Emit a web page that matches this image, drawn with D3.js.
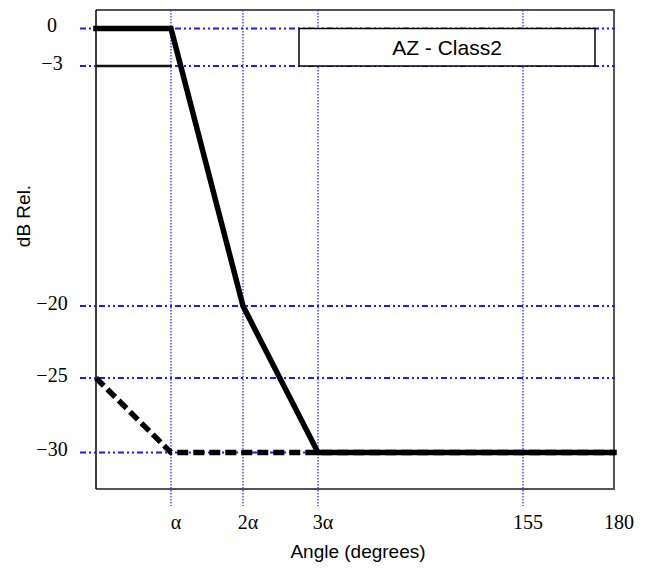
<!DOCTYPE html>
<html>
<head>
<meta charset="utf-8">
<script src="https://cdn.jsdelivr.net/npm/d3@7"></script>
<style>
  html, body { margin: 0; padding: 0; background: #fff; }
  svg { display: block; }
</style>
</head>
<body>
<svg id="chart" width="654" height="574"></svg>
<script>
// Nominal beamwidth α used to place the α, 2α, 3α abscissae (schematic axis).
const ALPHA = 30;

// Axis ticks
const xTickValues = [ALPHA, 2 * ALPHA, 3 * ALPHA, 155, 180];
const xTickLabels = ["α", "2α", "3α", "155", "180"];
const xGridValues = [ALPHA, 2 * ALPHA, 3 * ALPHA, 155];
const yTickValues = [0, -3, -20, -25, -30];
const yTickLabels = ["0", "\u22123", "\u221220", "\u221225", "\u221230"];

// Radiation-pattern mask (angle, dB relative)
const upperMaskX = [0, ALPHA, 2 * ALPHA, 3 * ALPHA, 180];
const upperMaskY = [0, 0, -20, -30, -30];
const halfPowerX = [0, ALPHA];
const halfPowerY = [-3, -3];
const lowerMaskX = [0, ALPHA, 180];
const lowerMaskY = [-25, -30, -30];

const legendText = "AZ - Class2";
const xTitle = "Angle (degrees)";
const yTitle = "dB Rel.";

const svg = d3.select("#chart");
const plot = { left: 96, right: 614, top: 10, bottom: 489 };

// Schematic (not-to-scale) axes: piecewise linear scales
const x = d3.scaleLinear()
  .domain([0, ALPHA, 2 * ALPHA, 3 * ALPHA, 155, 180])
  .range([plot.left, 171, 243, 318, 523, plot.right]);
const y = d3.scaleLinear()
  .domain([0, -3, -20, -25, -30])
  .range([28.5, 66, 306, 378, 452.5]);

const zip = (xs, ys) => xs.map((v, i) => [v, ys[i]]);
const line = d3.line().x(d => x(d[0])).y(d => y(d[1]));

const serif = "'Liberation Serif', 'Times New Roman', serif";
const sans = "'Liberation Sans', Arial, sans-serif";
const gridBlue = "#1a1aff";

// Frame
svg.append("path")
  .attr("d", `M${plot.left},${plot.top}H${plot.right}V${plot.bottom}H${plot.left}`)
  .attr("fill", "none").attr("stroke", "#555").attr("stroke-width", 2);
svg.append("line")
  .attr("x1", plot.left).attr("x2", plot.left)
  .attr("y1", plot.top).attr("y2", plot.bottom)
  .attr("stroke", "#000").attr("stroke-width", 1.5);

// Vertical grid lines (dotted)
svg.append("g").selectAll("line").data(xGridValues).join("line")
  .attr("x1", d => x(d)).attr("x2", d => x(d))
  .attr("y1", plot.top).attr("y2", 506)
  .attr("stroke", gridBlue).attr("stroke-width", 1.2)
  .attr("stroke-dasharray", "1.5,1.5");

// Horizontal grid lines (dash-dot-dot)
svg.append("g").selectAll("line").data(yTickValues).join("line")
  .attr("x1", 80).attr("x2", plot.right + 1)
  .attr("y1", d => y(d)).attr("y2", d => y(d))
  .attr("stroke", gridBlue).attr("stroke-width", 2.2)
  .attr("stroke-dasharray", "6,3,2,3,2,3");

// Legend box spanning the 0 to −3 dB band
svg.append("rect")
  .attr("x", 299).attr("y", y(0))
  .attr("width", 296).attr("height", y(-3) - y(0))
  .attr("fill", "#fff").attr("stroke", "#000").attr("stroke-width", 1.5);
svg.append("text")
  .attr("x", 447).attr("y", (y(0) + y(-3)) / 2 + 7.5)
  .attr("text-anchor", "middle")
  .attr("font-family", sans).attr("font-size", 21)
  .text(legendText);

// Lower mask (dashed)
svg.append("path")
  .datum(zip(lowerMaskX, lowerMaskY))
  .attr("d", line)
  .attr("fill", "none").attr("stroke", "#000").attr("stroke-width", 5.5)
  .attr("stroke-dasharray", "11,5");

// −3 dB half-power reference
svg.append("path")
  .datum(zip(halfPowerX, halfPowerY))
  .attr("d", line)
  .attr("fill", "none").attr("stroke", "#111").attr("stroke-width", 2.5);

// Upper mask (solid)
svg.append("path")
  .datum(zip(upperMaskX, upperMaskY))
  .attr("d", line)
  .attr("fill", "none").attr("stroke", "#000").attr("stroke-width", 5.5)
  .attr("stroke-linecap", "square");

// Y tick labels
svg.append("g").selectAll("text").data(yTickValues).join("text")
  .attr("x", 52).attr("y", d => y(d) + 3.5)
  .attr("text-anchor", "middle")
  .attr("font-family", serif).attr("font-size", 20)
  .text((d, i) => yTickLabels[i]);

// X tick labels
svg.append("g").selectAll("text").data(xTickValues).join("text")
  .attr("x", d => x(d) + 5).attr("y", 529)
  .attr("text-anchor", "middle")
  .attr("font-family", serif).attr("font-size", 20)
  .text((d, i) => xTickLabels[i]);

// Axis titles
svg.append("text")
  .attr("x", 358).attr("y", 558)
  .attr("text-anchor", "middle")
  .attr("font-family", sans).attr("font-size", 19)
  .text(xTitle);
svg.append("text")
  .attr("transform", "translate(30,216) rotate(-90)")
  .attr("text-anchor", "middle")
  .attr("font-family", sans).attr("font-size", 19)
  .text(yTitle);
</script>
</body>
</html>
